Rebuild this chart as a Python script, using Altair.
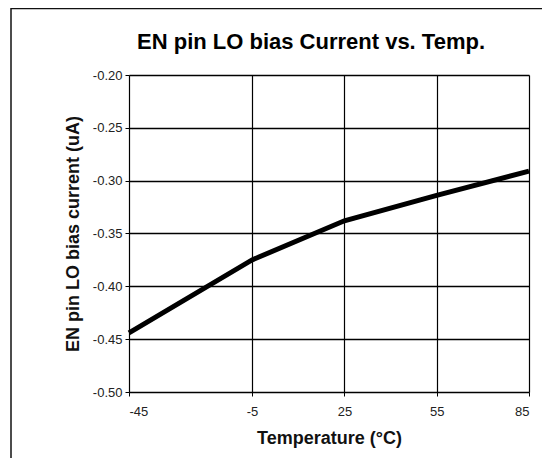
import altair as alt
import pandas as pd

temps = [-45, -5, 25, 55, 85]
current = [-0.444, -0.375, -0.338, -0.314, -0.291]
x_ticks = [-45, -5, 25, 55, 85]
y_ticks = [-0.50, -0.45, -0.40, -0.35, -0.30, -0.25, -0.20]
title_text = "EN pin LO bias Current vs. Temp."

df = pd.DataFrame({"temp": temps, "current": current})
FONT = "Liberation Sans"
MINUS_FIX = "replace(datum.label, '\u2212', '-')"

x_enc = alt.X(
    "temp:Q",
    scale=alt.Scale(domain=[-45, 85], nice=False, zero=False),
    axis=alt.Axis(
        values=x_ticks, title="Temperature (°C)", grid=True, gridColor="#000",
        gridWidth=1.2, domain=False, ticks=True, tickSize=4, tickColor="#000",
        labelPadding=9, labelFontSize=13, labelColor="#222", labelFont=FONT,
        labelExpr=MINUS_FIX,
        titleFont=FONT, titleFontSize=18, titleFontWeight="bold", titleColor="#111",
        titlePadding=11,
    ),
)
y_enc = alt.Y(
    "current:Q",
    scale=alt.Scale(domain=[-0.50, -0.20], nice=False, zero=False),
    axis=alt.Axis(
        values=y_ticks, format=".2f", title="EN pin LO bias current (uA)", grid=True,
        gridColor="#000", gridWidth=1.5, domain=False, ticks=True, tickSize=4,
        tickColor="#000", labelPadding=3, labelFontSize=13, labelColor="#222",
        labelFont=FONT, labelExpr=MINUS_FIX,
        titleFont=FONT, titleFontSize=18, titleFontWeight="bold",
        titleColor="#111", titlePadding=10,
    ),
)

line = alt.Chart(df).mark_line(color="#000", strokeWidth=5, strokeJoin="miter").encode(
    x=x_enc, y=y_enc
)

title_df = pd.DataFrame({"t": [title_text]})
title_mark = alt.Chart(title_df).mark_text(
    font=FONT, fontSize=22, fontWeight="bold", color="#000",
    align="center", baseline="alphabetic",
).encode(text="t:N", x=alt.value(182), y=alt.value(-26))

frame_top = alt.Chart(title_df).mark_rule(color="#111", strokeWidth=1.5).encode(
    x=alt.value(-118), x2=alt.value(416), y=alt.value(-66.5)
)
frame_left = alt.Chart(title_df).mark_rule(color="#111", strokeWidth=1.5).encode(
    x=alt.value(-118), y=alt.value(-67), y2=alt.value(391)
)

chart = (
    alt.layer(line, title_mark, frame_top, frame_left)
    .properties(
        width=400,
        height=317,
        autosize=alt.AutoSizeParams(type="none"),
        padding={"left": 121, "top": 67, "right": 13, "bottom": 66},
    )
    .configure_view(stroke="#000", strokeWidth=5)
    .configure(background="#fff")
)

chart.save("out.html", embed_options={"renderer": "svg", "actions": False})
